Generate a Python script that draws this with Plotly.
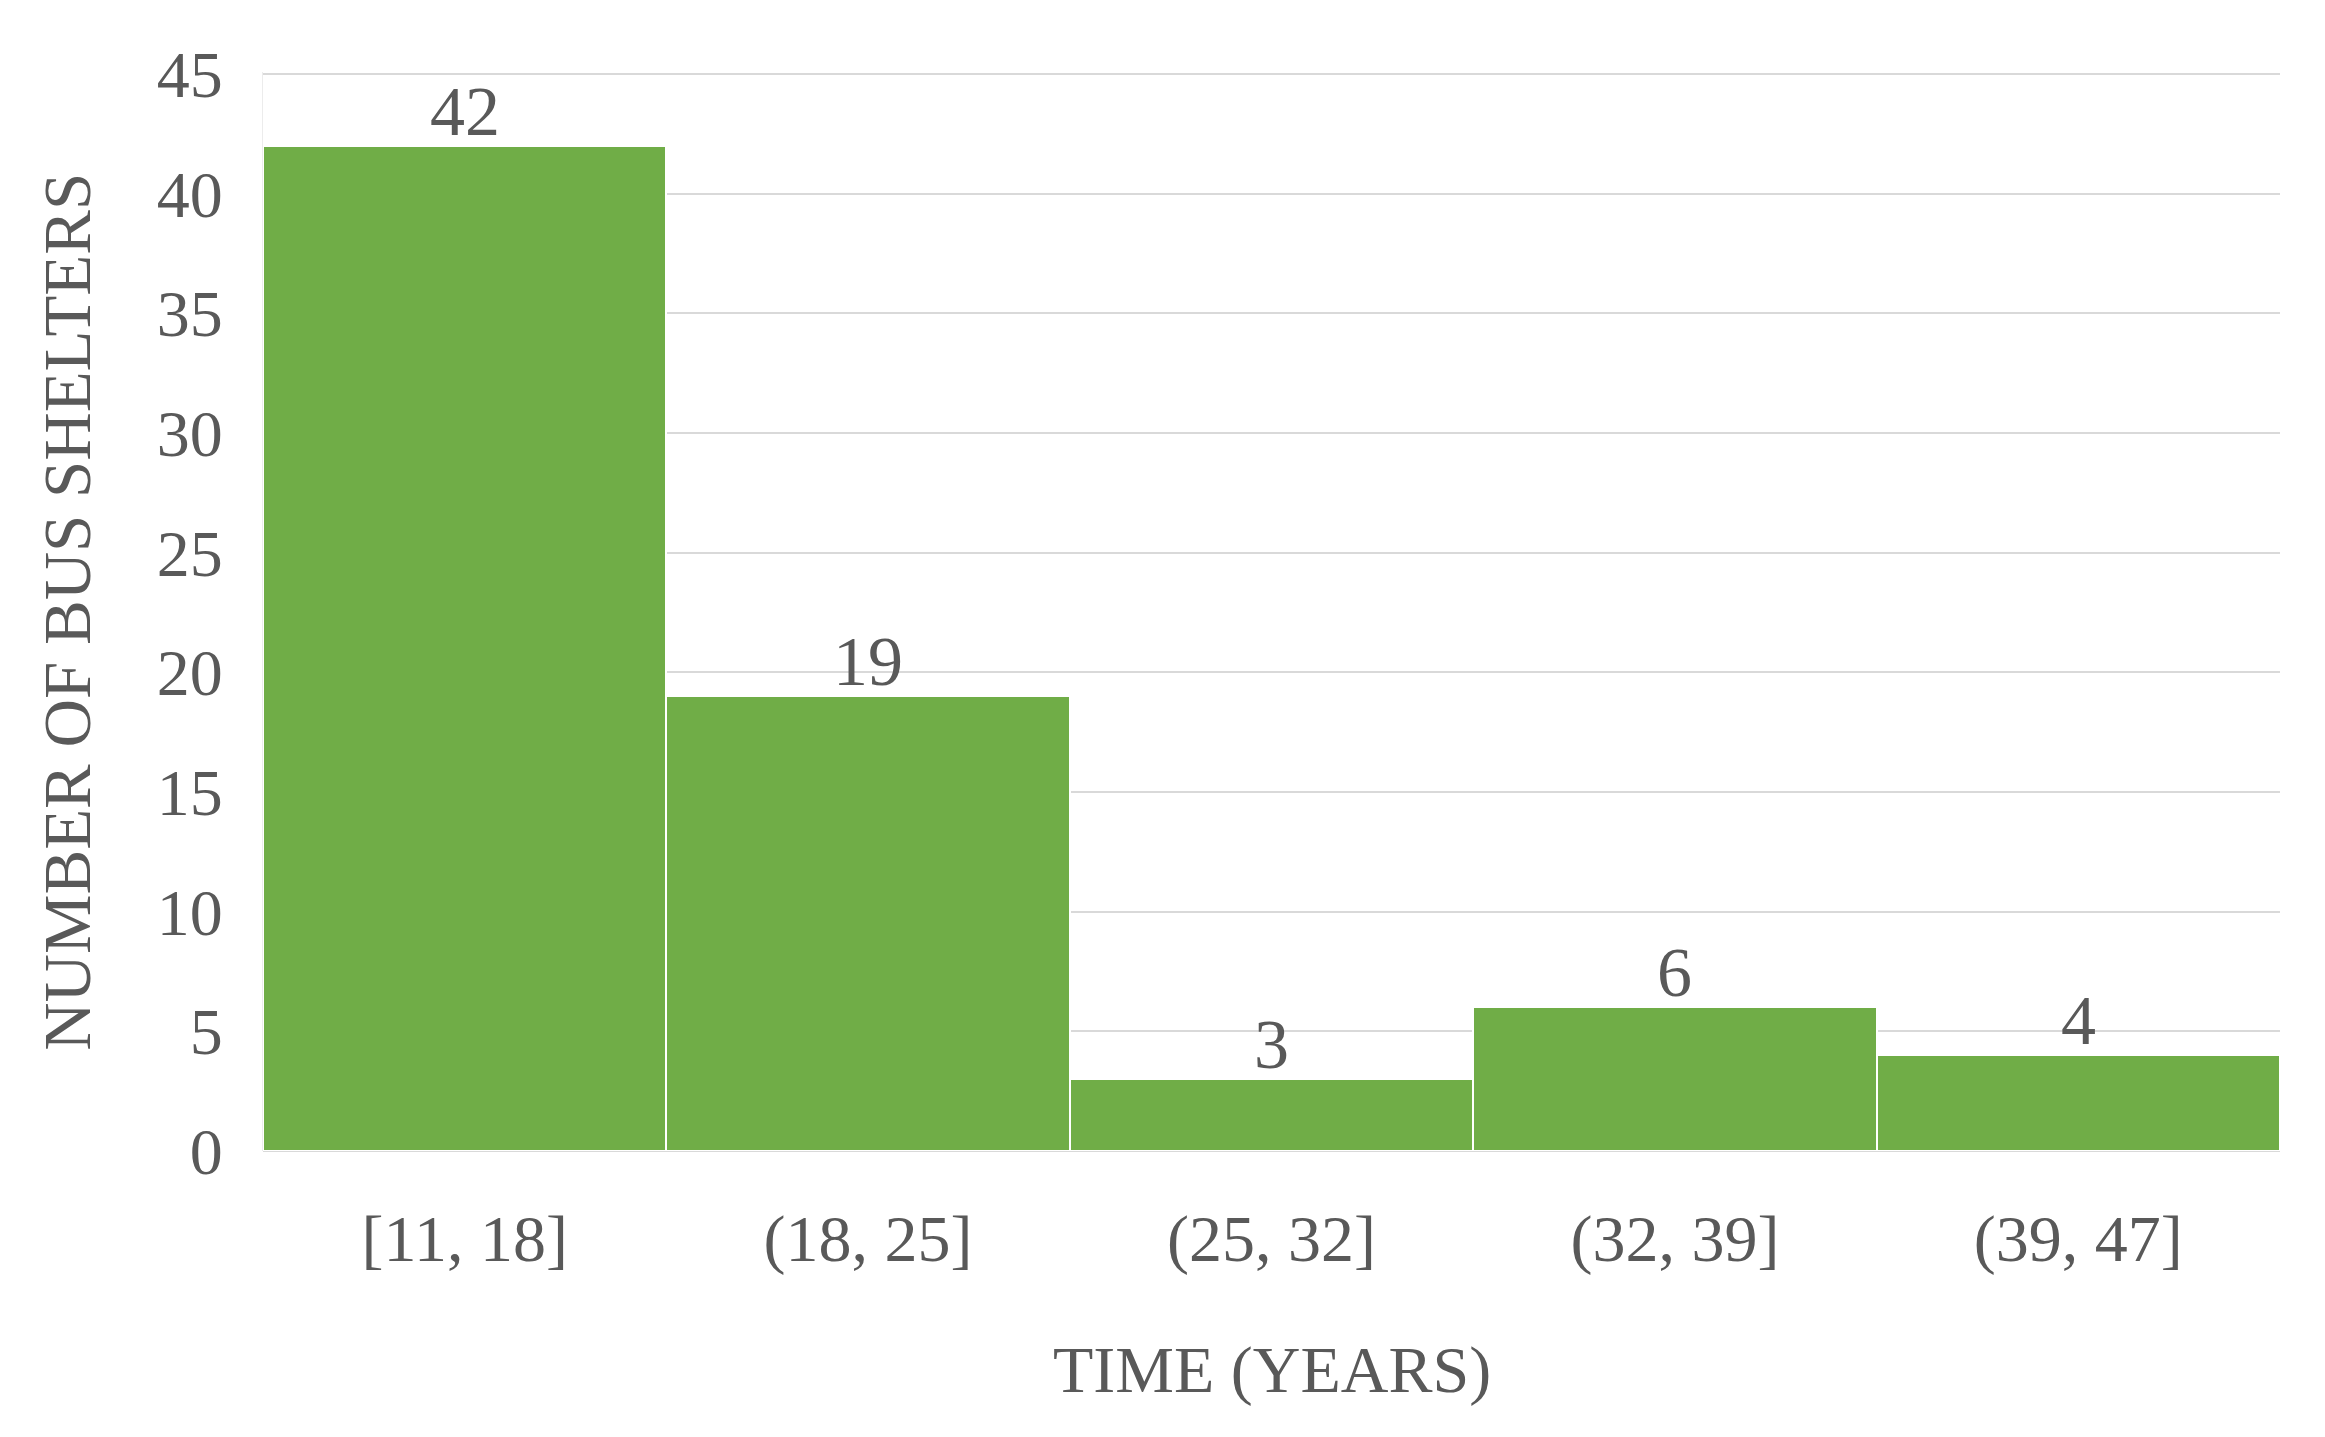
import plotly.graph_objects as go

categories = ["[11, 18]", "(18, 25]", "(25, 32]", "(32, 39]", "(39, 47]"]
counts = [42, 19, 3, 6, 4]

text_color = "#595959"
font_name = "Liberation Serif"

fig = go.Figure()
fig.add_trace(go.Bar(x=categories, y=counts,
					marker=dict(color="#70AD47", line=dict(color="white", width=2))))

# value labels sit a bit closer to the bar tops than textposition="outside" allows
for cat, val in zip(categories, counts):
	fig.add_annotation(x=cat, y=val, text=str(val), showarrow=False,
					yanchor="bottom", yshift=-6,
					font=dict(size=70, color=text_color, family=font_name))

fig.update_layout(width=2325, height=1437,
				margin=dict(l=255, r=53, t=64, b=294),
				plot_bgcolor="white", paper_bgcolor="white",
				bargap=0, showlegend=False,
				font=dict(family=font_name, size=64, color=text_color))

fig.update_xaxes(showgrid=False, showline=False, ticks="",
				range=[-0.5, 4.5], ticklabelstandoff=43,
				tickfont=dict(size=66, color=text_color))
fig.update_yaxes(range=[0, 45.08], tick0=0, dtick=5, showgrid=True,
				gridcolor="#d9d9d9", gridwidth=2,
				zeroline=True, zerolinecolor="#d9d9d9", zerolinewidth=2,
				showline=True, linecolor="#ececec", linewidth=1,
				ticks="", ticklabelstandoff=26,
				tickfont=dict(size=66, color=text_color))

fig.add_annotation(text="NUMBER OF BUS SHELTERS", xref="paper", yref="paper",
				x=-0.0975, y=0.5, textangle=-90, showarrow=False,
				xanchor="center", yanchor="middle",
				font=dict(size=67, color=text_color, family=font_name))
fig.add_annotation(text="TIME (YEARS)", xref="paper", yref="paper",
				x=0.5, y=-0.203, showarrow=False,
				xanchor="center", yanchor="middle",
				font=dict(size=66, color=text_color, family=font_name))

fig.write_html("out.html")
